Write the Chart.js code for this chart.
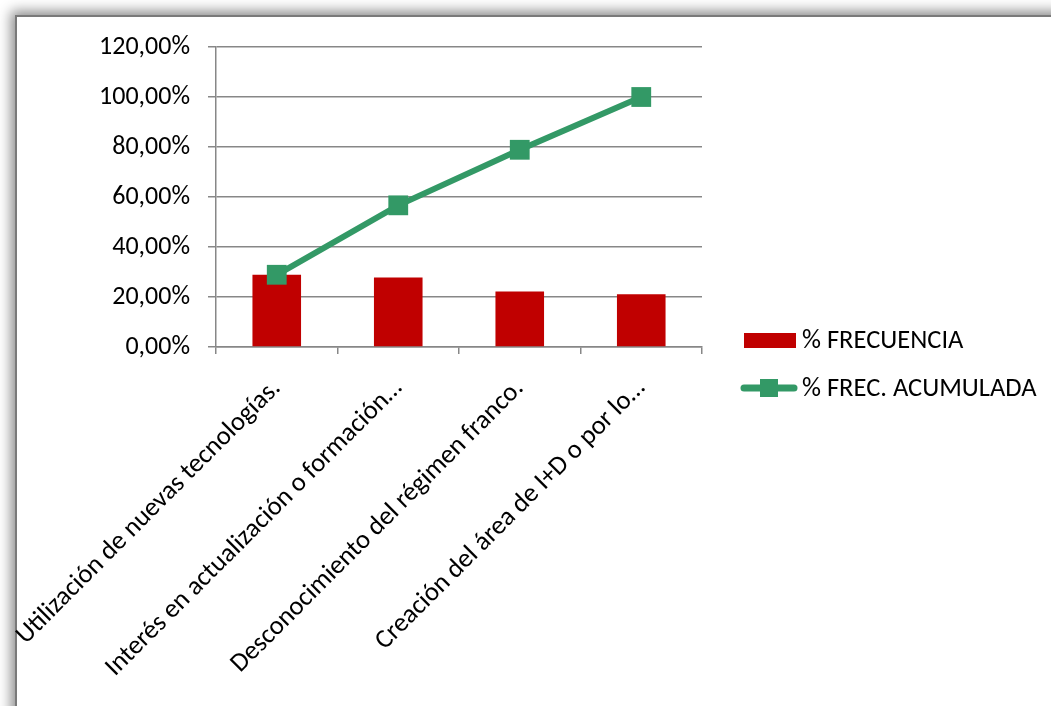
<!DOCTYPE html>
<html>
<head>
<meta charset="utf-8">
<script src="https://cdn.jsdelivr.net/npm/chart.js@4/dist/chart.umd.min.js"></script>
<style>
body{ margin:0; background:#fff; overflow:hidden; }
#frame{
    position:absolute; left:15px; top:15px; width:1200px; height:900px;
    border-left:2px solid #7a7a7a; border-top:2px solid #7a7a7a;
    box-shadow:-4px -4px 12px rgba(0,0,0,0.45);
    background:#fff;
}
#wrap{ position:absolute; left:0; top:0; width:1051px; height:706px; }
</style>
</head>
<body>
<div id="frame"></div>
<div id="wrap"><canvas id="chart" width="1051" height="706"></canvas></div>
<script>

// ==========================
// DATA
// ==========================

const categories = [
    "Utilización de nuevas tecnologías.",
    "Interés en actualización o formación…",
    "Desconocimiento del régimen franco.",
    "Creación del área de I+D o por lo…"
];

const frecuencia = [28.89, 27.78, 22.22, 21.11];
const acumulada = [28.89, 56.67, 78.89, 100.00];

const yTicks = [0, 20, 40, 60, 80, 100, 120];

const seriesNames = ["% FRECUENCIA", "% FREC. ACUMULADA"];

const FONT = "Carlito, Calibri, Lato, sans-serif";
const RED = "#C00000";
const GREEN = "#339966";
const GRID = "#878787";

// ==========================
// LEGEND (drawn by hand)
// ==========================

const sideLegend = {
    id: "sideLegend",
    afterDraw(chart){
        const ctx = chart.ctx;
        ctx.save();
        ctx.font = "26.5px " + FONT;
        ctx.textBaseline = "middle";

        // bar item
        ctx.fillStyle = RED;
        ctx.fillRect(744, 333, 52, 15);
        ctx.fillStyle = "#000";
        ctx.fillText(seriesNames[0], 802, 341);

        // line item
        ctx.strokeStyle = GREEN;
        ctx.lineWidth = 7;
        ctx.lineCap = "round";
        ctx.beginPath();
        ctx.moveTo(744, 388);
        ctx.lineTo(794, 388);
        ctx.stroke();
        ctx.fillStyle = GREEN;
        ctx.fillRect(760, 379, 18, 18);
        ctx.fillStyle = "#000";
        ctx.fillText(seriesNames[1], 802, 389);

        ctx.restore();
    }
};

// ==========================
// CHART
// ==========================

new Chart(document.getElementById("chart"), {

    data: {
        labels: categories,
        datasets: [
            {
                type: "line",
                label: seriesNames[1],
                data: acumulada,
                borderColor: GREEN,
                backgroundColor: GREEN,
                borderWidth: 6,
                pointStyle: "rect",
                pointRadius: 14,
                pointHoverRadius: 14,
                pointBorderWidth: 0,
                pointBackgroundColor: GREEN,
                tension: 0,
                order: 1
            },
            {
                type: "bar",
                label: seriesNames[0],
                data: frecuencia,
                backgroundColor: RED,
                barPercentage: 0.4,
                categoryPercentage: 1,
                order: 2
            }
        ]
    },

    options: {
        responsive: false,
        animation: false,
        layout: {
            padding: { top: 47, right: 349, left: 0, bottom: 0 }
        },
        plugins: {
            legend: { display: false },
            tooltip: { enabled: false }
        },
        scales: {
            x: {
                offset: true,
                grid: {
                    offset: true,
                    drawOnChartArea: false,
                    drawTicks: true,
                    tickLength: 7,
                    color: GRID,
                    lineWidth: 1.5
                },
                border: { color: GRID, width: 1.5 },
                ticks: {
                    minRotation: 45,
                    maxRotation: 45,
                    autoSkip: false,
                    padding: 19,
                    color: "#000",
                    font: { family: FONT, size: 26.5 }
                },
                afterFit(scale){
                    scale.height = 706 - 347;
                    scale.paddingLeft = 0;
                    scale.paddingRight = 0;
                }
            },
            y: {
                min: yTicks[0],
                max: yTicks[yTicks.length - 1],
                afterBuildTicks(scale){
                    scale.ticks = yTicks.map(v => ({ value: v }));
                },
                grid: {
                    color: GRID,
                    lineWidth: 1.5,
                    tickLength: 8
                },
                border: { color: GRID, width: 1.5 },
                ticks: {
                    padding: 18,
                    color: "#000",
                    font: { family: FONT, size: 26 },
                    callback: v => v.toFixed(2).replace(".", ",") + "%"
                },
                afterFit(scale){
                    scale.width = 216;
                }
            }
        }
    },

    plugins: [sideLegend]

});

</script>
</body>
</html>
